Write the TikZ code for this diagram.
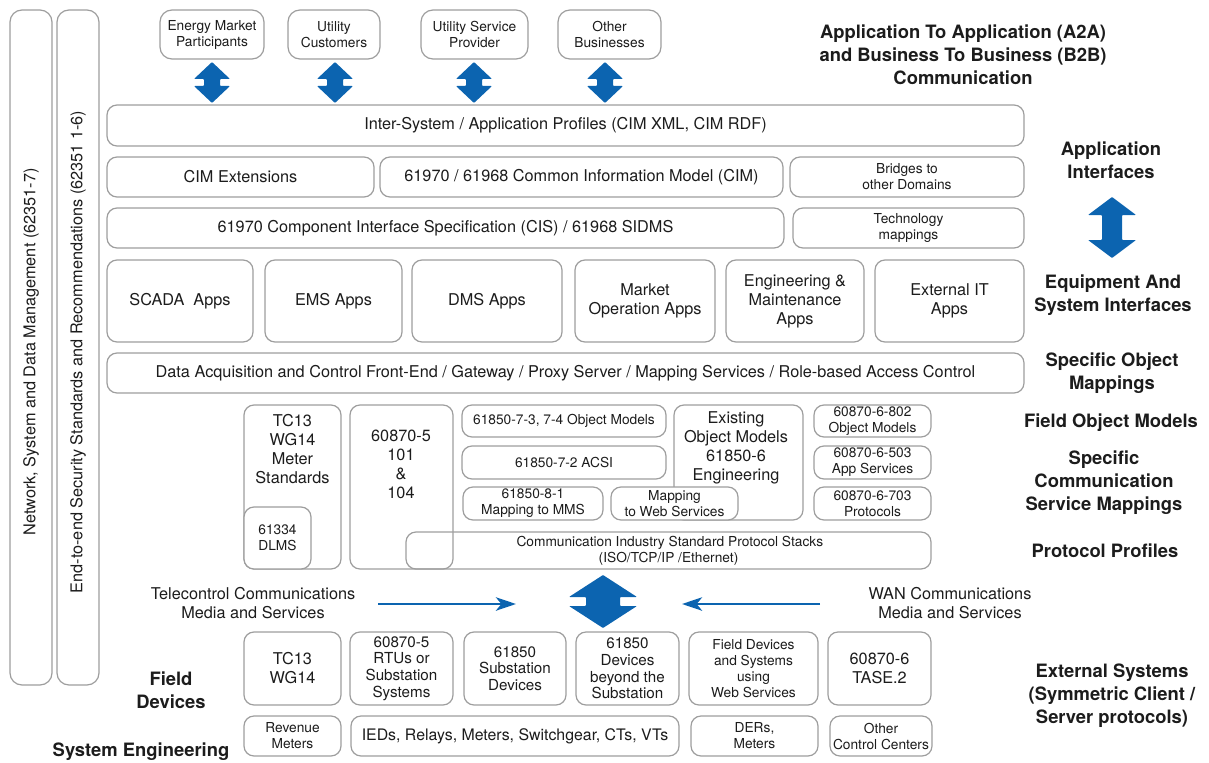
\documentclass[tikz,border=0pt]{standalone}
\usepackage{fontspec}
\setmainfont{TeX Gyre Heros}
\usetikzlibrary{arrows.meta}
\definecolor{bxline}{RGB}{158,158,158}
\definecolor{arrblue}{RGB}{12,100,176}
\definecolor{txt}{RGB}{28,28,28}
\newcommand\fmed{\fontsize{12.2}{14.3}\selectfont}
\newcommand\fmid{\fontsize{11.4}{12.4}\selectfont}
\newcommand\fsml{\fontsize{10.3}{12}\selectfont}
\newcommand\fbld{\fontsize{13.8}{17.2}\selectfont\bfseries}
\newcommand\mkbox[7][]{\node[box,#1,minimum width={(#5-#3)*0.75pt},minimum height={(#6-#4)*0.75pt}] (#2) at ({(#3+#5)/2},{(#4+#6)/2}) {#7};}
\newcommand\dblarr[6]{%
  \fill[arrblue,rounded corners=0.6pt] (#1,#2) -- ({#1+#4},{#2+#6}) -- ({#1+#5},{#2+#6}) -- ({#1+#5},{#3-#6}) -- ({#1+#4},{#3-#6}) -- (#1,#3) -- ({#1-#4},{#3-#6}) -- ({#1-#5},{#3-#6}) -- ({#1-#5},{#2+#6}) -- ({#1-#4},{#2+#6}) -- cycle;}
\tikzset{
  box/.style={draw=bxline, line width=0.9pt, rounded corners=7.5pt, inner sep=0pt, outer sep=0pt, align=center, text=txt, font=\fmed, fill=white},
  openbox/.style={box, fill=none},
  lbl/.style={align=center, text=txt, font=\fbld, inner sep=0pt},
  plain/.style={align=center, text=txt, font=\fmed, inner sep=0pt},
  conn/.style={draw=arrblue, line width=2.2pt, -{Stealth[length=15pt,width=10pt,inset=4pt]}},
}
\begin{document}
\begin{tikzpicture}[x=0.75pt,y=-0.75pt]
\useasboundingbox (0,0) rectangle (1209,763);

% vertical bars
\mkbox[rounded corners=9pt]{netbar}{10}{10}{52}{685}{}
\node[plain, rotate=90] (nettxt) at (31,352) {Network, System and Data Management (62351-7)};
\mkbox[rounded corners=9pt]{secbar}{57}{10}{99}{685}{}
\node[plain, rotate=90] (sectxt) at (78,352) {End-to-end Security Standards and Recommendations (62351 1-6)};

% top boxes
\mkbox[font=\fsml, rounded corners=9pt]{emp}{160}{10}{264}{59}{Energy Market\\Participants}
\mkbox[font=\fsml, rounded corners=9pt]{ucust}{288}{10}{380}{59}{Utility\\Customers}
\mkbox[font=\fsml, rounded corners=9pt]{usp}{421}{10}{528}{59}{Utility Service\\Provider}
\mkbox[font=\fsml, rounded corners=9pt]{obus}{558}{10}{661}{59}{Other\\Businesses}

\dblarr{212}{62}{103}{18}{8}{17}
\dblarr{335}{62}{103}{18}{8}{17}
\dblarr{474}{62}{103}{18}{8}{17}
\dblarr{605}{62}{103}{18}{8}{17}

% application layers
\mkbox{inter}{107}{105}{1024}{146}{Inter-System / Application Profiles (CIM XML, CIM RDF)}
\mkbox{cimext}{107}{157}{374}{197}{CIM Extensions}
\mkbox{cim}{380}{157}{783}{197}{61970 / 61968 Common Information Model (CIM)}
\mkbox[font=\fsml]{bridges}{790}{157}{1024}{197}{Bridges to\\other Domains}
\mkbox{cis}{107}{208}{784}{248}{61970 Component Interface Specification (CIS) / 61968 SIDMS}
\mkbox[font=\fsml]{techmap}{793}{208}{1024}{248}{Technology\\mappings}

% apps
\mkbox{scada}{107}{260}{253}{342}{SCADA\ \ Apps}
\mkbox{ems}{265}{260}{402}{342}{EMS Apps}
\mkbox{dms}{412}{260}{562}{342}{DMS Apps}
\mkbox{market}{575}{260}{715}{342}{Market\\Operation Apps}
\mkbox{engm}{726}{260}{864}{342}{Engineering \&\\Maintenance\\Apps}
\mkbox{extit}{875}{260}{1024}{342}{External IT\\Apps}

\mkbox{daq}{107}{353}{1024}{393}{Data Acquisition and Control Front-End / Gateway / Proxy Server / Mapping Services / Role-based Access Control}

% field object models
\mkbox{tcbox}{244}{405}{341}{569}{}
\node[plain] (tctxt) at (292.5,449) {TC13\\WG14\\Meter\\Standards};
\mkbox[font=\fsml]{dlms}{244}{507}{311}{569}{61334\\DLMS}
\mkbox[openbox]{iecbox}{350}{405}{453}{569}{}
\node[plain] (iectxt) at (401,464) {60870-5\\101\\\&\\104};
\mkbox[openbox, font=\fsml]{stack}{406}{532}{931}{569}{\hspace*{2pt}Communication Industry Standard Protocol Stacks\\(ISO/TCP/IP /Ethernet)}

\mkbox[font=\fsml]{om73}{462}{405}{666}{437}{61850-7-3, 7-4 Object Models}
\mkbox[font=\fsml]{acsi}{462}{446}{666}{479}{61850-7-2 ACSI}
\mkbox{exist}{674}{405}{803}{520}{}
\node[plain] (existtxt) at (736,447.5) {Existing\\Object Models\\61850-6\\Engineering};
\mkbox[font=\fsml]{mms}{463}{487}{603}{520}{61850-8-1\\Mapping to MMS}
\mkbox[font=\fsml]{webmap}{611}{487}{738}{520}{Mapping\\to Web Services}

\mkbox[font=\fsml]{om802}{814}{405}{931}{437}{60870-6-802\\Object Models}
\mkbox[font=\fsml]{as503}{814}{446}{931}{479}{60870-6-503\\App Services}
\mkbox[font=\fsml]{pr703}{814}{487}{931}{520}{60870-6-703\\Protocols}

% communication arrows
\node[plain] (telecom) at (253,603.5) {Telecontrol Communications\\Media and Services};
\node[plain] (wan) at (950,603.5) {WAN Communications\\Media and Services};
\coordinate (ta) at (378,604);
\coordinate (tb) at (516,604);
\coordinate (wa) at (820,604);
\coordinate (wb) at (682,604);
\draw[conn] (ta) -- (tb);
\draw[conn] (wa) -- (wb);
\dblarr{603}{575}{628}{34}{17}{22}

% field devices
\mkbox{tcdev}{244}{632}{341}{705}{TC13\\WG14}
\mkbox[font=\fmid]{rtu}{350}{632}{453}{705}{60870-5\\RTUs or\\Substation\\Systems}
\mkbox[font=\fmid]{subdev}{464}{632}{566}{705}{61850\\Substation\\Devices}
\mkbox[font=\fmid]{beyond}{576}{632}{679}{705}{61850\\Devices\\beyond the\\Substation}
\mkbox[font=\fsml]{webdev}{689}{632}{818}{705}{Field Devices\\and Systems\\using\\Web Services}
\mkbox{tase}{828}{632}{931}{705}{60870-6\\TASE.2}

% system engineering row
\mkbox[font=\fsml]{revm}{244}{716}{341}{756}{Revenue\\Meters}
\mkbox[font=\fontsize{11.9}{14}\selectfont]{ieds}{351}{716}{679}{756}{IEDs, Relays, Meters, Switchgear, CTs, VTs}
\mkbox[font=\fsml]{ders}{691}{716}{818}{756}{DERs,\\Meters}
\mkbox[font=\fsml]{occ}{830}{716}{932}{756}{Other\\Control Centers}

% right-hand labels
\node[lbl] (a2a) at (963,55) {Application To Application (A2A)\\and Business To Business (B2B)\\Communication};
\node[lbl] (appif) at (1111,160.5) {Application\\Interfaces};
\dblarr{1112}{197}{258}{24}{10}{18}
\node[lbl] (equip) at (1113,295.5) {Equipment And\\System Interfaces};
\node[lbl] (specobj) at (1112,373.5) {Specific Object\\Mappings};
\node[lbl] (fom) at (1111,423) {Field Object Models};
\node[lbl] (scsm) at (1104,483) {Specific\\Communication\\Service Mappings};
\node[lbl] (protprof) at (1105,551) {Protocol Profiles};
\node[lbl] (extsys) at (1112,695.5) {External Systems\\(Symmetric Client /\\Server protocols)};
\node[lbl] (fielddev) at (171,690.5) {Field\\Devices};
\node[lbl] (syseng) at (141,752) {System Engineering};
\end{tikzpicture}
\end{document}
